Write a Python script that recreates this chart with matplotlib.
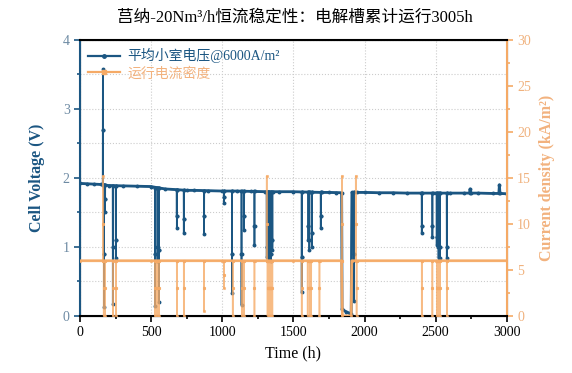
import numpy as np
import matplotlib.pyplot as plt
from matplotlib.ticker import MultipleLocator
from matplotlib.lines import Line2D

plt.rcParams['font.family'] = ['Liberation Serif', 'Noto Sans CJK SC']
plt.rcParams['axes.unicode_minus'] = False

BLUE = '#1b5682'
ORANGE = '#f5aa66'

# --- voltage: slow baseline (h, V) ---
base_t = [0, 50, 100, 150, 200, 300, 400, 500, 540, 600, 680, 750, 800, 900,
          1000, 1100, 1200, 1300, 1400, 1500, 1600, 1700, 1750, 1800, 1839,
          1842, 1870, 1900, 1906, 1911, 1950, 2000, 2100, 2200, 2300, 2400,
          2500, 2600, 2700, 2738, 2742, 2746, 2800, 2900, 2944, 2948, 2952,
          3000]
base_v = [1.92, 1.915, 1.91, 1.905, 1.89, 1.885, 1.88, 1.875, 1.86, 1.84,
          1.83, 1.82, 1.82, 1.815, 1.81, 1.81, 1.805, 1.80, 1.80, 1.80, 1.795,
          1.79, 1.79, 1.787, 1.785, 0.10, 0.06, 0.035, 0.03, 1.79, 1.79, 1.79,
          1.785, 1.785, 1.78, 1.78, 1.78, 1.78, 1.78, 1.78, 1.84, 1.78, 1.78,
          1.775, 1.775, 1.90, 1.775, 1.77]

# --- voltage: short dips / spikes (h, baseline, intermediate, extreme) ---
dip_t = [160, 168, 176, 230, 251, 527, 544, 555, 680, 729, 872, 1012, 1068,
         1135, 1153, 1226, 1312, 1320, 1330, 1340, 1352, 1558, 1605, 1612,
         1630, 1692, 1925, 2402, 2477, 2507, 2520, 2530, 2578]
dip_base = [1.90, 1.90, 1.90, 1.89, 1.885, 1.86, 1.855, 1.85, 1.83, 1.82,
            1.815, 1.81, 1.81, 1.81, 1.81, 1.805, 1.80, 1.80, 1.80, 1.80,
            1.80, 1.79, 1.79, 1.79, 1.79, 1.79, 1.79, 1.78, 1.78, 1.78, 1.78,
            1.78, 1.78]
dip_mid = [2.70, 0.90, 1.70, 1.00, 1.10, 0.90, 1.00, 0.95, 1.45, 1.40, 1.45,
           1.72, 0.90, 0.90, 1.45, 1.30, 1.00, 1.05, 0.95, 0.90, 1.10, 0.85,
           1.30, 1.10, 1.20, 1.45, 0.90, 1.30, 1.30, 1.15, 1.00, 1.00, 1.00]
dip_low = [3.58, 0.13, 1.50, 0.18, 0.84, 0.14, 0.80, 0.20, 1.27, 1.20, 1.19,
           1.64, 0.33, 0.16, 1.25, 1.03, 0.85, 0.90, 0.81, 0.80, 0.95, 0.35,
           1.10, 0.96, 1.00, 1.27, 0.22, 1.20, 1.15, 1.03, 0.84, 0.84, 0.84]

# --- current density: baseline (h, kA/m2) ---
cb_t = [0, 500, 1000, 1500, 1838, 1844, 1906, 1910, 2500, 3000]
cb_v = [6.0, 6.0, 6.0, 6.0, 6.0, 0.0, 0.0, 6.0, 6.0, 6.0]

# --- current density: drops / spikes (h, intermediate, extreme) ---
ce_t = [160, 166, 174, 232, 251, 527, 535, 548, 555, 680, 729, 872, 1012,
        1073, 1137, 1153, 1226, 1312, 1318, 1325, 1333, 1342, 1352, 1558,
        1600, 1615, 1625, 1683, 1840, 1938, 1944, 2402, 2477, 2510, 2520,
        2530, 2578]
ce_mid = [10.0, 3.0, 3.0, 3.0, 3.0, 3.0, 3.0, 3.0, 3.0, 3.0, 3.0, 3.0, 4.5,
          3.0, 3.0, 3.0, 3.0, 10.0, 3.0, 3.0, 3.0, 3.0, 3.0, 3.0, 3.0, 3.0,
          3.0, 3.0, 10.0, 10.0, 3.0, 3.0, 3.0, 3.0, 3.0, 3.0, 3.0]
ce_low = [15.2, 0.0, 0.0, 0.0, 0.0, 0.0, 0.0, 0.0, 0.0, 0.0, 0.0, 0.5, 3.0,
          0.0, 0.0, 0.0, 0.0, 15.2, 0.0, 0.0, 0.0, 0.0, 0.0, 0.0, 0.0, 0.0,
          0.0, 0.0, 15.2, 15.2, 0.0, 0.0, 0.0, 0.0, 0.0, 0.0, 0.0]


def merge(bt, bv, events):
    pts = list(zip(bt, bv)) + events
    pts.sort(key=lambda p: p[0])
    return np.array([p[0] for p in pts]), np.array([p[1] for p in pts])


v_events = []
for t, b, m, lo in zip(dip_t, dip_base, dip_mid, dip_low):
    v_events += [(t - 1, b), (t - 0.5, m), (t, lo), (t + 0.5, m), (t + 1, b)]
vt, vv = merge(base_t, base_v, v_events)

c_events = []
for t, m, lo in zip(ce_t, ce_mid, ce_low):
    c_events += [(t - 0.5, 6.0), (t - 0.2, m), (t, lo), (t + 0.2, m), (t + 0.5, 6.0)]
ct, cv = merge(cb_t, cb_v, c_events)

fig = plt.figure(figsize=(5.72, 3.73), dpi=100)
ax = fig.add_axes([0.14, 0.153, 0.746, 0.74])
ax2 = ax.twinx()

ax.plot(vt, vv, '-o', color=BLUE, lw=1.2, ms=1.8, zorder=3)
ax.plot(base_t, base_v, '-', color=BLUE, lw=2.0, zorder=3)
# thick run line plus thin drop lines, same series
ax2.plot(ct, cv, '-', color=ORANGE, lw=1.1, alpha=0.8, zorder=3)
ax2.plot(ct, cv, 's', color=ORANGE, ms=1.2, alpha=0.7, zorder=3)
ax2.plot(cb_t, cb_v, '-', color=ORANGE, lw=2.0, alpha=0.9, zorder=3)

ax.set_xlim(0, 3000)
ax.set_ylim(0, 4)
ax2.set_ylim(0, 30)
ax.xaxis.set_major_locator(MultipleLocator(500))
ax.xaxis.set_minor_locator(MultipleLocator(250))
ax.yaxis.set_major_locator(MultipleLocator(1))
ax.yaxis.set_minor_locator(MultipleLocator(0.5))
ax2.yaxis.set_major_locator(MultipleLocator(5))
ax2.yaxis.set_minor_locator(MultipleLocator(2.5))

ax.grid(True, axis='x', which='major', ls=':', color='#cccccc', lw=0.8)
ax.grid(True, axis='y', which='both', ls=':', color='#cccccc', lw=0.8)
ax.set_axisbelow(True)

for s in ['top', 'bottom']:
    ax2.spines[s].set_color('black')
    ax2.spines[s].set_linewidth(1.5)
ax2.spines['left'].set_color(BLUE)
ax2.spines['left'].set_linewidth(1.5)
ax2.spines['right'].set_color(ORANGE)
ax2.spines['right'].set_linewidth(1.5)

ax.tick_params(axis='x', which='both', direction='out', colors='black', labelsize=10, width=1.2)
ax.tick_params(axis='x', which='major', length=4)
ax.tick_params(axis='x', which='minor', length=2.5)
ax.tick_params(axis='y', which='both', direction='out', color=BLUE, labelcolor='#6d8aa3',
               labelsize=10, width=1.2)
ax.tick_params(axis='y', which='major', length=4)
ax.tick_params(axis='y', which='minor', length=2.5)
ax2.tick_params(axis='y', which='both', direction='out', color=ORANGE, labelcolor='#f0b27e',
                labelsize=10, width=1.2)
ax2.tick_params(axis='y', which='major', length=4)
ax2.tick_params(axis='y', which='minor', length=2.5)

ax.set_xlabel('Time (h)', fontsize=11.5, labelpad=4)
ax.set_ylabel('Cell Voltage (V)', fontsize=11.5, fontweight='bold', color=BLUE, labelpad=13)
ax2.set_ylabel('Current density (kA/m²)', fontsize=11.5, fontweight='bold',
               color='#f2b27e', labelpad=6)

fig.text(0.515, 0.952, '莒纳-20Nm³/h恒流稳定性：电解槽累计运行3005h',
         ha='center', va='center', fontsize=12)

handles = [Line2D([], [], color=BLUE, lw=1.6, marker='o', ms=2.5),
           Line2D([], [], color=ORANGE, lw=1.6, marker='s', ms=2.5)]
leg = ax2.legend(handles, ['平均小室电压@6000A/m²', '运行电流密度'], loc='upper left',
                 frameon=False, fontsize=10, handlelength=2.3, borderaxespad=0.2,
                 labelspacing=0.25, handletextpad=0.5)
for txt, c in zip(leg.get_texts(), [BLUE, '#f2b27e']):
    txt.set_color(c)

fig.savefig('out.png', dpi=100)
